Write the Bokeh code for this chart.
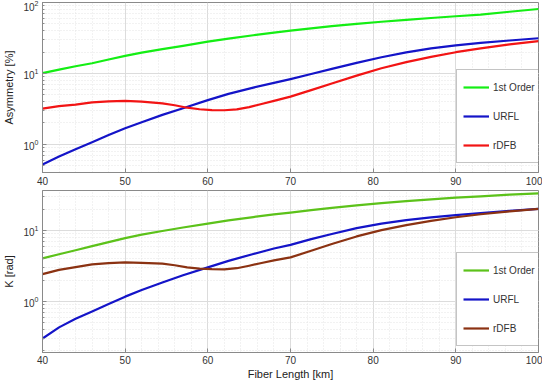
from bokeh.plotting import figure
from bokeh.models import Legend, LegendItem, Range1d, FixedTicker
from bokeh.layouts import column
from bokeh.embed import file_html
from bokeh.resources import INLINE

# Fiber length [km] (sample points for 1st Order and URFL)
length = [40, 42, 44, 46, 48, 50, 52, 54.5, 57, 60, 62.5, 65.5, 68, 70, 72.5, 75, 78, 81, 84, 87, 90, 93, 96.5, 100]
# Fiber length [km] (sample points for rDFB)
length_r = [40, 42, 44, 46, 48, 50, 52, 54.5, 56, 57.5, 59, 60.5, 62, 63.5, 65, 66.5, 68, 70, 72.5, 75, 78, 81, 84, 87, 90, 93, 96.5, 100]

# Asymmetry [%]
asym_first = [10.1, 11.3, 12.6, 13.9, 15.7, 17.7, 19.6, 22.0, 24.5, 28.0, 31.0, 34.5, 37.5, 40.0, 43.2, 46.5, 50.0, 53.5, 57.0, 60.5, 64.0, 67.5, 74.0, 81.0]
asym_urfl = [0.52, 0.67, 0.85, 1.07, 1.35, 1.68, 2.05, 2.60, 3.22, 4.20, 5.15, 6.30, 7.35, 8.30, 9.80, 11.6, 14.1, 16.9, 19.8, 22.5, 24.8, 26.9, 29.1, 31.3]
asym_rdfb = [3.19, 3.45, 3.62, 3.90, 4.02, 4.09, 4.00, 3.78, 3.55, 3.28, 3.12, 3.04, 3.02, 3.10, 3.35, 3.70, 4.10, 4.70, 5.80, 7.20, 9.30, 11.8, 14.4, 17.1, 19.9, 22.6, 25.6, 28.6]

# K [rad]
k_first = [4.07, 4.65, 5.3, 6.05, 6.9, 7.85, 8.8, 9.9, 11.1, 12.6, 14.0, 15.6, 17.0, 18.0, 19.5, 21.0, 22.8, 24.5, 26.2, 27.8, 29.3, 30.6, 32.3, 33.8]
k_urfl = [0.30, 0.43, 0.57, 0.72, 0.92, 1.17, 1.45, 1.85, 2.35, 3.03, 3.75, 4.69, 5.60, 6.30, 7.60, 9.00, 10.9, 12.6, 14.1, 15.4, 16.6, 17.8, 19.1, 20.4]
k_rdfb = [2.43, 2.80, 3.05, 3.34, 3.48, 3.57, 3.52, 3.42, 3.25, 3.03, 2.92, 2.87, 2.85, 2.95, 3.20, 3.50, 3.80, 4.20, 5.20, 6.50, 8.30, 10.2, 12.0, 13.8, 15.5, 17.1, 18.8, 20.4]

labels = ["1st Order", "URFL", "rDFB"]
x_ticks = [40, 50, 60, 70, 80, 90, 100]

FONT = "Liberation Sans"
AX = "#8a8a8a"
TXT = "#333333"


def style(p, y_label, show_xlabel):
    p.outline_line_color = AX
    p.outline_line_width = 1
    p.xaxis.ticker = FixedTicker(ticks=x_ticks, minor_ticks=list(range(40, 101, 2)))
    for ax in p.xaxis + p.yaxis:
        ax.axis_line_color = AX
        ax.major_tick_line_color = AX
        ax.minor_tick_line_color = AX
        ax.major_tick_in = 4
        ax.major_tick_out = 0
        ax.minor_tick_in = 2
        ax.minor_tick_out = 0
        ax.major_label_text_font = FONT
        ax.major_label_text_font_size = "10px"
        ax.major_label_text_color = TXT
        ax.axis_label_text_font = FONT
        ax.axis_label_text_font_size = "11px"
        ax.axis_label_text_font_style = "normal"
        ax.axis_label_text_color = "#222222"
        ax.major_label_standoff = 4
        ax.axis_label_standoff = 5
    p.xaxis.minor_tick_line_color = None
    p.yaxis.axis_label = y_label
    if show_xlabel:
        p.xaxis.axis_label = "Fiber Length [km]"
        p.xaxis.major_label_standoff = 3
        p.xaxis.axis_label_standoff = 1
    for g in p.xgrid + p.ygrid:
        g.grid_line_color = "#dcdcdc"
        g.grid_line_width = 1
        g.minor_grid_line_color = "#e4e4e4"
        g.minor_grid_line_dash = "1 2"
    p.background_fill_color = "white"
    p.border_fill_color = "white"


def make_legend(p, renderers, loc):
    items = [LegendItem(label=l, renderers=[r]) for l, r in zip(labels, renderers)]
    lg = Legend(items=items, location=loc)
    lg.label_text_font = FONT
    lg.label_text_font_size = "10px"
    lg.label_text_color = TXT
    lg.glyph_width = 26
    lg.glyph_height = 22
    lg.label_height = 22
    lg.label_standoff = 4
    lg.spacing = 7
    lg.padding = 6
    lg.margin = 0
    lg.border_line_color = AX
    lg.border_line_width = 1
    lg.background_fill_alpha = 1
    p.add_layout(lg)


def make_fig(h, yr, top_border):
    return figure(width=542, height=h, y_axis_type="log", output_backend="svg",
                  toolbar_location=None, x_range=Range1d(40, 100), y_range=Range1d(*yr),
                  min_border_left=32, min_border_right=4, min_border_top=top_border,
                  min_border_bottom=0)


top = make_fig(187, (0.4, 100), 2)
r1 = top.line(length, asym_first, line_color="#14ee14", line_width=2.2, line_join="round")
r2 = top.line(length, asym_urfl, line_color="#1414c8", line_width=2.2, line_join="round")
r3 = top.line(length_r, asym_rdfb, line_color="#f21414", line_width=2.2, line_join="round")
style(top, "Asymmetry [%]", False)
make_legend(top, [r1, r2, r3], (414, 9))

bot = make_fig(195, (0.19, 37), 3)
s1 = bot.line(length, k_first, line_color="#5cc21a", line_width=2.2, line_join="round")
s2 = bot.line(length, k_urfl, line_color="#1414c8", line_width=2.2, line_join="round")
s3 = bot.line(length_r, k_rdfb, line_color="#8b3212", line_width=2.2, line_join="round")
style(bot, "K [rad]", True)
make_legend(bot, [s1, s2, s3], (414, 6))

layout = column(top, bot, spacing=0)
open("out.html", "w").write(file_html(layout, INLINE))
